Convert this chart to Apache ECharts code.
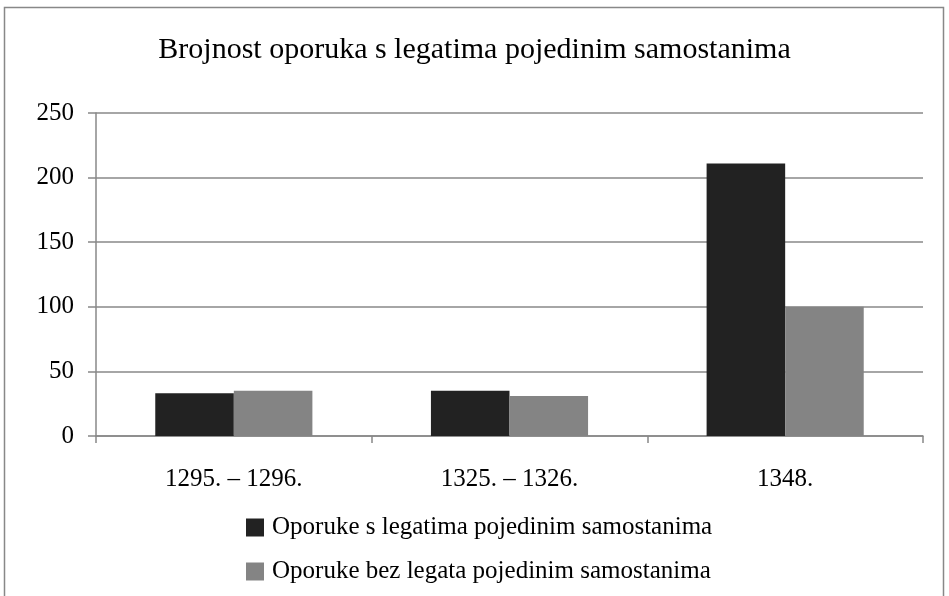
<!DOCTYPE html>
<html>

<head>
    <meta charset="utf-8">
</head>

<body style="height: 100%; margin: 0">
    <div id="container" style="width: 949px; height: 596px"></div>
    <script type="text/javascript" src="https://cdn.jsdelivr.net/npm/echarts@6/dist/echarts.min.js"></script>
    <script>
        var categories = ['1295. – 1296.', '1325. – 1326.', '1348.']
        var withLegacy = [33, 35, 211]
        var withoutLegacy = [35, 31, 100]
        var seriesNames = ['Oporuke s legatima pojedinim samostanima', 'Oporuke bez legata pojedinim samostanima']

        var font = 'Liberation Serif'
        var myChart = echarts.init(document.getElementById('container'))
        var option = {
            animation: false,
            backgroundColor: '#fff',
            title: {
                text: 'Brojnost oporuka s legatima pojedinim samostanima',
                left: 'center',
                top: 30,
                textStyle: { fontFamily: font, fontSize: 30, fontWeight: 'normal', color: '#000' }
            },
            graphic: [{
                type: 'rect',
                shape: { x: 4.5, y: 7.5, width: 939, height: 620 },
                style: { fill: 'none', stroke: '#888', lineWidth: 1.5 }
            }],
            legend: {
                orient: 'vertical',
                left: 241,
                top: 510,
                itemWidth: 18,
                itemHeight: 18,
                itemGap: 19,
                icon: 'rect',
                textStyle: { fontFamily: font, fontSize: 25, color: '#000', lineHeight: 25, padding: [0, 0, 0, 3] },
                data: seriesNames
            },
            grid: { left: 96, right: 26, top: 113, bottom: 160 },
            xAxis: {
                type: 'category',
                data: categories,
                axisLine: { lineStyle: { color: '#888', width: 1.5 } },
                axisTick: { show: true, length: 7, lineStyle: { color: '#888', width: 1.5 } },
                axisLabel: { fontFamily: font, fontSize: 25, color: '#000', margin: 31 }
            },
            yAxis: {
                type: 'value',
                min: 0,
                max: 250,
                interval: 50,
                axisLine: { show: true, lineStyle: { color: '#888', width: 1.5 } },
                axisTick: { show: true, length: 8, lineStyle: { color: '#888', width: 1.5 } },
                splitLine: { lineStyle: { color: '#888', width: 1.5 } },
                axisLabel: { fontFamily: font, fontSize: 25, color: '#000', margin: 22 }
            },
            series: [{
                name: seriesNames[0],
                type: 'bar',
                data: withLegacy,
                itemStyle: { color: '#222222' },
                barGap: '0%',
                barCategoryGap: '43%'
            }, {
                name: seriesNames[1],
                type: 'bar',
                data: withoutLegacy,
                itemStyle: { color: '#848484' }
            }]
        }
        myChart.setOption(option)
    </script>

</body>

</html>
